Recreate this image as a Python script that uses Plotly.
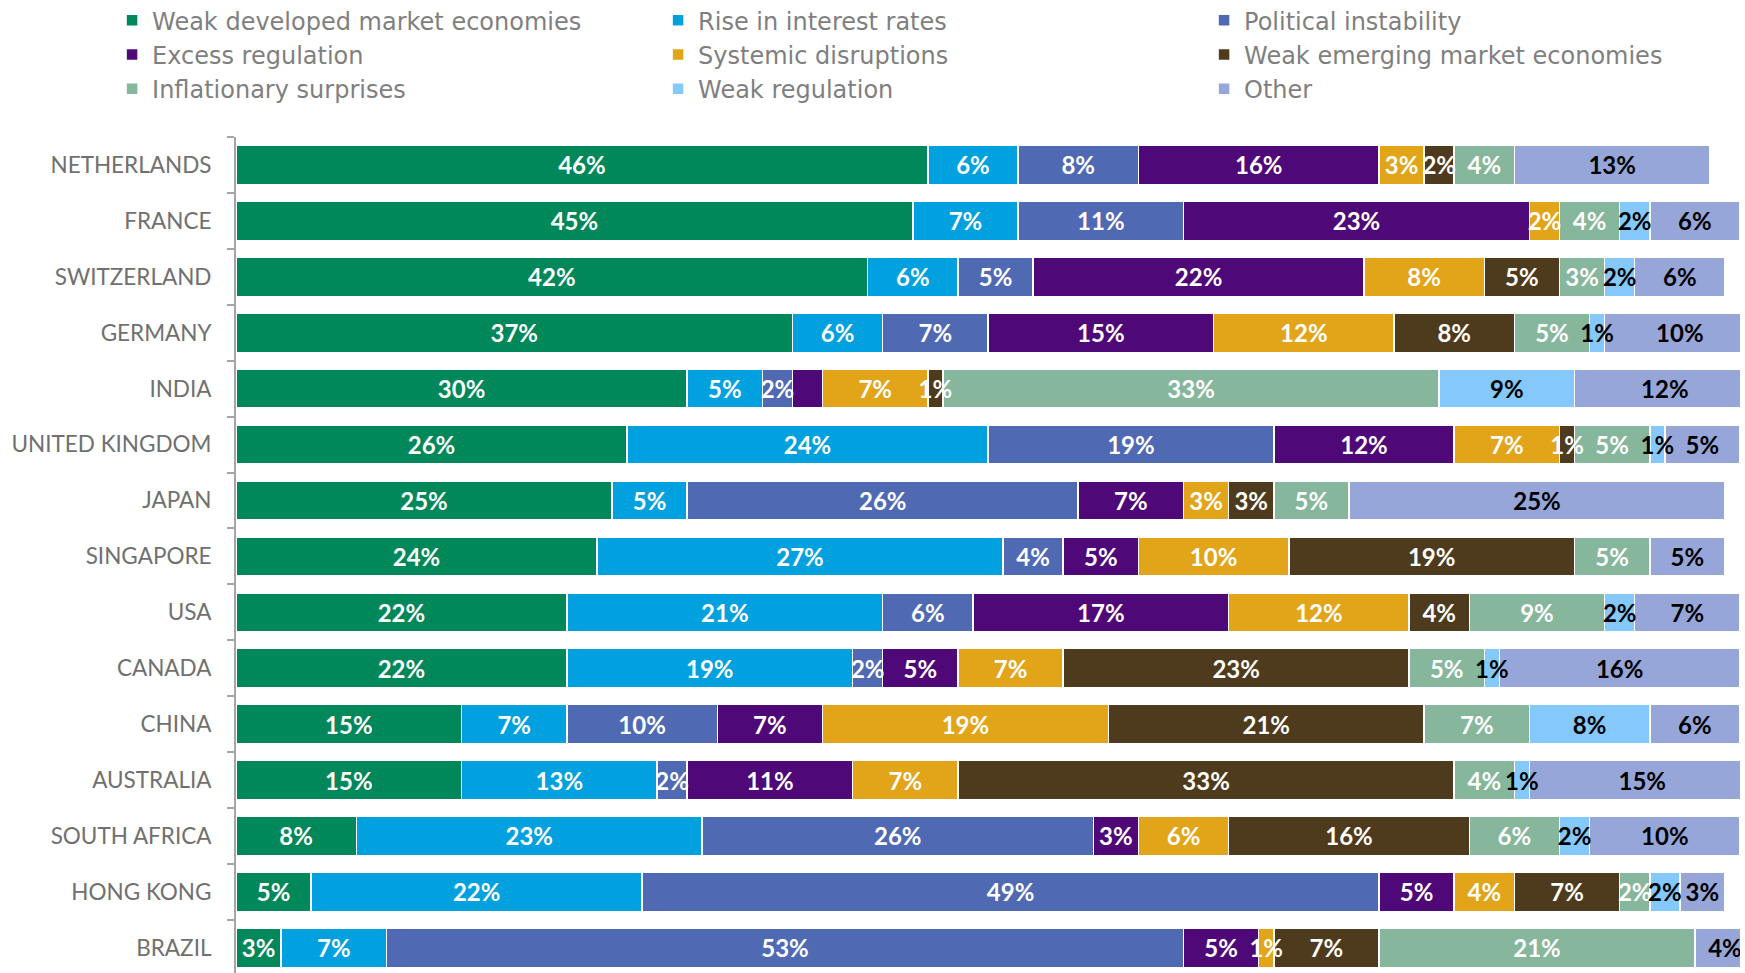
import plotly.graph_objects as go

# Countries, top to bottom
countries = [
    "NETHERLANDS", "FRANCE", "SWITZERLAND", "GERMANY", "INDIA",
    "UNITED KINGDOM", "JAPAN", "SINGAPORE", "USA", "CANADA",
    "CHINA", "AUSTRALIA", "SOUTH AFRICA", "HONG KONG", "BRAZIL",
]

# Share of respondents (%) per risk, one value per country above
weak_developed = [46, 45, 42, 37, 30, 26, 25, 24, 22, 22, 15, 15, 8, 5, 3]
rise_rates = [6, 7, 6, 6, 5, 24, 5, 27, 21, 19, 7, 13, 23, 22, 7]
political = [8, 11, 5, 7, 2, 19, 26, 4, 6, 2, 10, 2, 26, 49, 53]
excess_regulation = [16, 23, 22, 15, 2, 12, 7, 5, 17, 5, 7, 11, 3, 5, 5]
systemic = [3, 2, 8, 12, 7, 7, 3, 10, 12, 7, 19, 7, 6, 4, 1]
weak_emerging = [2, 0, 5, 8, 1, 1, 3, 19, 4, 23, 21, 33, 16, 7, 7]
inflationary = [4, 4, 3, 5, 33, 5, 5, 5, 9, 5, 7, 4, 6, 2, 21]
weak_regulation = [0, 2, 2, 1, 9, 1, 0, 0, 2, 1, 8, 1, 2, 2, 0]
other = [13, 6, 6, 10, 12, 5, 25, 5, 7, 16, 6, 15, 10, 3, 4]

series_names = [
    "Weak developed market economies", "Rise in interest rates", "Political instability",
    "Excess regulation", "Systemic disruptions", "Weak emerging market economies",
    "Inflationary surprises", "Weak regulation", "Other",
]
series_values = [
    weak_developed, rise_rates, political, excess_regulation, systemic,
    weak_emerging, inflationary, weak_regulation, other,
]
series_colors = [
    "#00875A", "#00A1DE", "#4F69B3", "#4E0877", "#E2A51A",
    "#4E3B1D", "#86B69B", "#85C8FB", "#97A6D9",
]
label_colors = ["white"] * 7 + ["black"] * 2

# Labels left off where two tiny segments would print on top of each other
hidden_labels = {("INDIA", "Excess regulation")}

fig = go.Figure()

# Coloured segments
for name, vals, color in zip(series_names, series_values, series_colors):
    fig.add_trace(go.Bar(
        name=name,
        y=countries,
        x=vals,
        orientation="h",
        marker=dict(color=color, line=dict(color="white", width=1.5)),
        hoverinfo="skip",
    ))

# Percentage labels: a transparent copy of the stack on an overlaid axis,
# so every label sits above all of the coloured segments
for name, vals, tcolor in zip(series_names, series_values, label_colors):
    labels = [
        "" if v == 0 or (c, name) in hidden_labels else f"{v}%"
        for c, v in zip(countries, vals)
    ]
    fig.add_trace(go.Bar(
        name=name,
        y=countries,
        x=vals,
        yaxis="y2",
        orientation="h",
        marker=dict(color="rgba(0,0,0,0)", line=dict(width=0)),
        text=labels,
        textposition="inside",
        insidetextanchor="middle",
        textangle=0,
        constraintext="none",
        textfont=dict(family="Lato", size=24, color=tcolor, weight="bold"),
        showlegend=False,
        hoverinfo="skip",
    ))

fig.update_layout(
    width=1745,
    height=973,
    barmode="stack",
    bargap=0.3,
    plot_bgcolor="white",
    paper_bgcolor="white",
    margin=dict(l=236, r=5, t=137, b=0, autoexpand=False),
    showlegend=True,
    legend=dict(
        orientation="h",
        x=-0.0824, y=1.166,
        xanchor="left", yanchor="top",
        entrywidth=501, entrywidthmode="pixels",
        itemwidth=30,
        traceorder="normal",
        font=dict(family="DejaVu Sans", size=24, color="#7F7F7F"),
        bgcolor="rgba(0,0,0,0)",
    ),
    xaxis=dict(range=[0, 100], visible=False, fixedrange=True),
    yaxis=dict(
        type="category",
        range=[14.45, -0.5],
        showline=True, linecolor="#A6A6A6", linewidth=2,
        ticks="outside", tickson="boundaries", ticklen=7,
        tickcolor="#A6A6A6", tickwidth=2,
        ticklabelstandoff=18,
        tickfont=dict(family="Lato", size=22.5, color="#707070"),
        showgrid=False, zeroline=False,
    ),
    yaxis2=dict(
        type="category",
        overlaying="y",
        range=[14.45, -0.5],
        visible=False,
        categoryorder="array", categoryarray=countries,
    ),
)

fig.write_html("out.html")
